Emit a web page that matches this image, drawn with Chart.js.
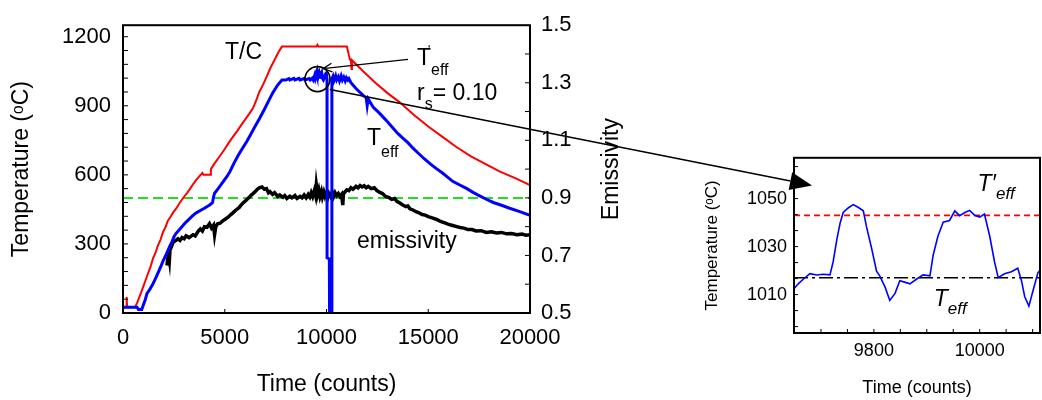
<!DOCTYPE html>
<html>
<head>
<meta charset="utf-8">
<script src="https://cdn.jsdelivr.net/npm/chart.js@4.4.0/dist/chart.umd.min.js"></script>
<style>
  body { margin: 0; background: #fff; }
  #wrap { position: relative; width: 1042px; height: 400px; }
  canvas { position: absolute; }
  #mainChart { left: 0; top: 0; }
  #insetChart { left: 690px; top: 140px; }
  #overlay { left: 0; top: 0; pointer-events: none; }
</style>
</head>
<body>
<div id="wrap">
  <canvas id="mainChart" width="1042" height="400"></canvas>
  <canvas id="insetChart" width="352" height="260"></canvas>
  <canvas id="overlay" width="1042" height="400"></canvas>
</div>
<script>
// ---- main chart data ----
const tcTime = [0, 160, 180, 200, 590, 700, 850, 980, 1100, 1200, 1350, 1475, 1600, 1700, 1850, 1965, 2100, 2200, 2350, 2460, 2600, 2800, 3000, 3145, 3300, 3450, 3600, 3780, 3900, 3950, 4300, 4320, 4500, 4770, 5000, 5200, 5400, 5600, 5800, 6000, 6200, 6390, 6550, 6700, 6900, 7075, 7250, 7450, 7650, 7810, 9500, 9550, 9600, 11000, 11050, 11100, 11150, 11200, 11230, 11250, 11800, 12400, 13000, 13600, 14300, 15000, 15700, 16400, 17100, 17800, 18500, 19300, 20000];
const tcTemp = [25, 25, 70, 25, 25, 45, 80, 110, 140, 165, 200, 237, 262, 290, 320, 351, 375, 400, 420, 436, 452, 480, 505, 521, 540, 560, 578, 597, 608, 600, 600, 625, 650, 683, 712, 740, 765, 789, 815, 840, 865, 890, 925, 960, 995, 1030, 1065, 1100, 1135, 1157, 1157, 1165, 1157, 1157, 1140, 1120, 1102, 1095, 1060, 1098, 1050, 1000, 955, 915, 860, 810, 765, 720, 680, 648, 615, 585, 556];

const teffTime = [0, 690, 760, 920, 1000, 1100, 1180, 1300, 1475, 1600, 1700, 1850, 1965, 2100, 2200, 2300, 2410, 2500, 2600, 2800, 3000, 3100, 3300, 3440, 3600, 3800, 4000, 4275, 4400, 4450, 4500, 4620, 4800, 5110, 5260, 5450, 5650, 5850, 6090, 6300, 6500, 6730, 6950, 7150, 7370, 7600, 7810,
  8000, 8150, 8200, 8400, 8450, 8650, 8700, 8900, 8950, 9150, 9200, 9300, 9350, 9420, 9450, 9500, 9530, 9560, 9600, 9640, 9680, 9720, 9760, 9800, 9850, 9900, 9950, 9990, 10025,
  10028, 10140, 10150, 10255, 10265,
  10320, 10370, 10450, 10500, 10580, 10640, 10720, 10780, 10850, 10920, 10980, 11050, 11100, 11200, 11300, 11450, 11600, 11800, 11950, 12000, 12050, 12300, 12600, 12900, 13200, 13500, 13750, 14000, 14250, 14500, 14800, 15100, 15400, 15700, 15950, 16200, 16550, 16900, 17200, 17500, 17850, 18200, 18600, 19000, 19500, 20000];
const teffTemp = [25, 25, 15, 15, 35, 60, 85, 100, 127, 150, 170, 200, 225, 250, 270, 290, 310, 330, 345, 365, 385, 395, 412, 424, 435, 445, 455, 470, 480, 505, 520, 534, 555, 593, 615, 650, 683, 712, 746, 780, 812, 848, 885, 920, 958, 990, 1012,
  1012, 1018, 1012, 1019, 1012, 1019, 1012, 1018, 1012, 1018, 1012, 1020, 1012, 1032, 1020, 1040, 1030, 1046, 1028, 1040, 1018, 1038, 1045, 1020, 1012, 1022, 1038, 1042, 1018,
  240, 235, 10, 10, 1015,
  1028, 1010, 1030, 1012, 1026, 1008, 1030, 1012, 1025, 1008, 1022, 1012, 1018, 1000, 990, 975, 962, 945, 935, 900, 930, 893, 868, 840, 810, 780, 760, 740, 716, 695, 670, 648, 627, 608, 590, 572, 556, 540, 524, 510, 494, 480, 468, 455, 440, 424];

const emisTime = [2160, 2200, 2250, 2280, 2310, 2380, 2450, 2550, 2700, 2800, 2900, 3000, 3100, 3250, 3440, 3550, 3700, 3800, 3900, 4000, 4130, 4250, 4350, 4450, 4500, 4560, 4650, 4770, 4900, 5000, 5150, 5300, 5400, 5550, 5700, 5800, 5900, 6050, 6200, 6300, 6390, 6500, 6600, 6700, 6830, 6950, 7050, 7150, 7220, 7350, 7450, 7600, 7700, 7860, 7950, 8050, 8200, 8300, 8450, 8550, 8700, 8800, 8900, 9000, 9100, 9180, 9250, 9320, 9400, 9460, 9500, 9560, 9620, 9680, 9750, 9800, 9870, 9930, 10000, 10060, 10120, 10200, 10280, 10350, 10420, 10500, 10580, 10660, 10740, 10800, 10830, 10900, 11000, 11100, 11200, 11300, 11450, 11550, 11650, 11750, 11850, 11950, 12050, 12200, 12350, 12480, 12600, 12750, 12900, 13050, 13200, 13350, 13460, 13600, 13750, 13900, 14000, 14100, 14250, 14400, 14550, 14700, 14850, 15000, 15230, 15400, 15550, 15700, 15850, 16000, 16200, 16400, 16560, 16750, 16950, 17150, 17350, 17600, 17850, 18100, 18350, 18600, 18850, 19100, 19350, 19600, 19800, 20000];
const emisValue = [0.665, 0.69, 0.70, 0.685, 0.72, 0.73, 0.745, 0.75, 0.758, 0.752, 0.762, 0.758, 0.768, 0.762, 0.772, 0.768, 0.785, 0.792, 0.785, 0.80, 0.798, 0.81, 0.795, 0.805, 0.772, 0.80, 0.81, 0.812, 0.82, 0.825, 0.832, 0.842, 0.848, 0.858, 0.866, 0.875, 0.882, 0.892, 0.902, 0.91, 0.915, 0.922, 0.93, 0.935, 0.938, 0.93, 0.932, 0.918, 0.922, 0.912, 0.918, 0.905, 0.91, 0.902, 0.908, 0.898, 0.906, 0.90, 0.908, 0.898, 0.905, 0.90, 0.91, 0.90, 0.912, 0.903, 0.918, 0.905, 0.925, 0.908, 0.945, 0.912, 0.928, 0.905, 0.922, 0.903, 0.92, 0.905, 0.918, 0.90, 0.915, 0.905, 0.92, 0.905, 0.918, 0.908, 0.915, 0.905, 0.912, 0.875, 0.912, 0.92, 0.928, 0.925, 0.935, 0.93, 0.94, 0.935, 0.943, 0.938, 0.942, 0.935, 0.94, 0.932, 0.935, 0.925, 0.92, 0.915, 0.905, 0.902, 0.895, 0.898, 0.888, 0.882, 0.875, 0.87, 0.872, 0.862, 0.858, 0.852, 0.848, 0.842, 0.84, 0.835, 0.83, 0.825, 0.82, 0.816, 0.812, 0.808, 0.804, 0.80, 0.797, 0.795, 0.79, 0.79, 0.785, 0.786, 0.78, 0.782, 0.778, 0.78, 0.775, 0.776, 0.772, 0.774, 0.77, 0.772];

const refTemp = 500;          // green dashed line
const timeTicks = [0, 5000, 10000, 15000, 20000];
const tempTicks = [0, 300, 600, 900, 1200];
const emisTicks = [0.5, 0.7, 0.9, 1.1, 1.3, 1.5];

// ---- inset data ----
const zoomTime = [9649, 9657, 9667, 9679, 9692, 9704, 9717, 9723, 9730, 9736, 9742, 9752, 9761, 9770, 9780, 9786, 9796, 9805, 9811, 9821, 9830, 9840, 9849, 9858, 9868, 9881, 9893, 9906, 9912, 9921, 9931, 9943, 9953, 9962, 9972, 9981, 9991, 10000, 10009, 10019, 10028, 10035, 10047, 10060, 10072, 10079, 10085, 10093, 10101, 10110, 10115];
const zoomTemp = [1012.5, 1014.5, 1016.5, 1018.7, 1018.2, 1018.5, 1018.2, 1023.7, 1033, 1039.6, 1044.2, 1046.2, 1047.5, 1046.4, 1044.9, 1038.3, 1029, 1019.8, 1017.8, 1013.2, 1007.6, 1010.5, 1015.8, 1015.2, 1014.5, 1016.5, 1018.2, 1017.8, 1026.4, 1034.3, 1040.2, 1040.9, 1044.9, 1042.9, 1044.2, 1045.1, 1042.9, 1042.3, 1043.6, 1034.3, 1023.7, 1017.1, 1018.7, 1019.5, 1021, 1015.8, 1009.2, 1005.2, 1011.8, 1019.1, 1020.4];
const teffLevel = 1017;
const teffPrimeLevel = 1043;
const zoomTimeTicks = [9800, 10000];
const zoomTempTicks = [1010, 1030, 1050];

const FONT = "'Liberation Sans', Arial, sans-serif";
Chart.defaults.font.family = FONT;
Chart.defaults.color = '#000';

function pts(xs, ys) { return xs.map((x, i) => ({ x: x, y: ys[i] })); }

function subText(ctx, x, y, main, sub, size, subSize, drop, style) {
  style = style || '';
  ctx.font = style + ' ' + size + 'px ' + FONT;
  ctx.fillText(main, x, y);
  const w = ctx.measureText(main).width;
  ctx.font = style + ' ' + subSize + 'px ' + FONT;
  ctx.fillText(sub, x + w, y + drop);
  return x + w + ctx.measureText(sub).width;
}

const mainDecor = {
  id: 'mainDecor',
  afterDraw(chart) {
    const { ctx, chartArea: a, scales } = chart;
    const xs = scales.x, ys = scales.y, es = scales.y2;
    ctx.save();
    ctx.strokeStyle = '#000';
    ctx.fillStyle = '#000';
    ctx.lineWidth = 1;
    ctx.beginPath();
    for (let v = 60; v < 1250; v += 60) {
      const p = ys.getPixelForValue(v);
      ctx.moveTo(a.left, p); ctx.lineTo(a.left + 5, p);
    }
    for (let v = 0.6; v < 1.45; v += 0.1) {
      const p = es.getPixelForValue(v);
      ctx.moveTo(a.right, p); ctx.lineTo(a.right - 5, p);
    }
    timeTicks.slice(1, -1).forEach(v => {
      const p = xs.getPixelForValue(v);
      ctx.moveTo(p, a.bottom); ctx.lineTo(p, a.bottom - 4);
    });
    ctx.stroke();
    ctx.lineWidth = 2;
    ctx.strokeRect(a.left, a.top, a.right - a.left, a.bottom - a.top);

    // right axis title
    ctx.save();
    ctx.translate(612, (a.top + a.bottom) / 2);
    ctx.rotate(-Math.PI / 2);
    ctx.textAlign = 'center';
    ctx.textBaseline = 'middle';
    ctx.font = '23px ' + FONT;
    ctx.fillText('Emissivity', 0, 0);
    ctx.restore();

    // labels
    ctx.textBaseline = 'alphabetic';
    ctx.textAlign = 'left';
    ctx.font = '23px ' + FONT;
    ctx.fillText('T/C', xs.getPixelForValue(5012), ys.getPixelForValue(1102));

    let lx = xs.getPixelForValue(14447), ly = ys.getPixelForValue(1077);
    subText(ctx, lx, ly, 'T', 'eff', 23, 16, 10);
    ctx.font = '12px ' + FONT;
    ctx.fillText("'", lx + 11, ly - 11);

    lx = xs.getPixelForValue(14447); ly = ys.getPixelForValue(925);
    const after = subText(ctx, lx, ly, 'r', 's', 23, 16, 9);
    ctx.font = '23px ' + FONT;
    ctx.fillText('= 0.10', after, ly);

    subText(ctx, xs.getPixelForValue(11990), ys.getPixelForValue(731), 'T', 'eff', 23, 16, 12);
    ctx.font = '23px ' + FONT;
    ctx.fillText('emissivity', xs.getPixelForValue(11499), ys.getPixelForValue(283));

    // circle + small arrow
    const cx = xs.getPixelForValue(9558), cy = ys.getPixelForValue(1016);
    ctx.lineWidth = 1.6;
    ctx.beginPath();
    ctx.arc(cx, cy, 12.5, 0, Math.PI * 2);
    ctx.stroke();
    const tx = xs.getPixelForValue(14005), ty = ys.getPixelForValue(1102);
    const hx = cx + 5.5, hy = cy - 10.5;
    ctx.lineWidth = 1.3;
    ctx.beginPath();
    ctx.moveTo(tx, ty); ctx.lineTo(hx, hy);
    const ang = Math.atan2(ty - hy, tx - hx);
    ctx.moveTo(hx + 10 * Math.cos(ang + 0.45), hy + 10 * Math.sin(ang + 0.45));
    ctx.lineTo(hx, hy);
    ctx.lineTo(hx + 10 * Math.cos(ang - 0.45), hy + 10 * Math.sin(ang - 0.45));
    ctx.stroke();
    ctx.restore();
  }
};

const mainChart = new Chart(document.getElementById('mainChart'), {
  type: 'line',
  data: {
    datasets: [
      { data: pts(tcTime, tcTemp), borderColor: '#ff0000', borderWidth: 2, yAxisID: 'y', order: 2 },
      { data: pts(teffTime, teffTemp), borderColor: '#0000ff', borderWidth: 3, yAxisID: 'y', order: 1 },
      { data: pts(emisTime, emisValue), borderColor: '#000', borderWidth: 3.5, yAxisID: 'y2', order: 3 },
      { data: pts([0, 20000], [refTemp, refTemp]), borderColor: '#22dd22', borderWidth: 2, borderDash: [10, 5], yAxisID: 'y', order: 4 }
    ]
  },
  options: {
    responsive: false,
    animation: false,
    events: [],
    layout: { padding: { top: 17, left: 0, right: 0, bottom: 0 } },
    elements: { point: { radius: 0 }, line: { tension: 0 } },
    plugins: { legend: { display: false }, tooltip: { enabled: false } },
    scales: {
      x: {
        type: 'linear', min: 0, max: 20000,
        grid: { display: false, drawTicks: false }, border: { display: false },
        afterBuildTicks: s => { s.ticks = timeTicks.map(v => ({ value: v })); },
        afterFit: s => { s.height = 87; },
        ticks: { font: { size: 22 }, padding: 12, maxRotation: 0, autoSkip: false, callback: v => String(v) },
        title: { display: true, text: 'Time (counts)', font: { size: 23 }, padding: { top: 0, bottom: 2 } }
      },
      y: {
        type: 'linear', position: 'left', min: 0, max: 1250,
        grid: { display: false, drawTicks: false }, border: { display: false },
        afterBuildTicks: s => { s.ticks = tempTicks.map(v => ({ value: v })); },
        afterFit: s => { s.width = 123; },
        ticks: { font: { size: 22 }, padding: 12, autoSkip: false, callback: v => String(v) },
        title: { display: true, text: 'Temperature (ᵒC)', font: { size: 23 }, padding: { top: 8, bottom: 0 } }
      },
      y2: {
        type: 'linear', position: 'right', min: 0.5, max: 1.5,
        grid: { display: false, drawTicks: false }, border: { display: false },
        afterBuildTicks: s => { s.ticks = emisTicks.map(v => ({ value: v })); },
        afterFit: s => { s.width = 512; },
        ticks: { font: { size: 22 }, padding: 11, autoSkip: false, callback: v => v.toFixed(1) }
      }
    }
  },
  plugins: [mainDecor]
});

const insetDecor = {
  id: 'insetDecor',
  afterDraw(chart) {
    const { ctx, chartArea: a, scales } = chart;
    const xs = scales.x, ys = scales.y;
    ctx.save();
    ctx.strokeStyle = '#000';
    ctx.fillStyle = '#000';
    ctx.lineWidth = 1;
    ctx.beginPath();
    for (let v = 1050 - 20 * 8 / 3; v < 1066; v += 20 / 3) {
      const p = ys.getPixelForValue(v);
      ctx.moveTo(a.left, p); ctx.lineTo(a.left + 4, p);
    }
    for (let v = 9650; v < 10114; v += 50) {
      const p = xs.getPixelForValue(v);
      ctx.moveTo(p, a.bottom); ctx.lineTo(p, a.bottom - 4);
    }
    ctx.stroke();
    ctx.lineWidth = 2;
    ctx.strokeRect(a.left, a.top, a.right - a.left, a.bottom - a.top);
    ctx.textAlign = 'left';
    ctx.textBaseline = 'alphabetic';
    subText(ctx, xs.getPixelForValue(9996), ys.getPixelForValue(1053.2), 'T′', 'eff', 23, 17, 8, 'italic');
    subText(ctx, xs.getPixelForValue(9913), ys.getPixelForValue(1005.2), 'T', 'eff', 23, 17, 8, 'italic');
    ctx.restore();
  }
};

const insetChart = new Chart(document.getElementById('insetChart'), {
  type: 'line',
  data: {
    datasets: [
      { data: pts(zoomTime, zoomTemp), borderColor: '#0000ff', borderWidth: 1.6, order: 1 },
      { data: pts([9649, 10114], [teffPrimeLevel, teffPrimeLevel]), borderColor: '#ff0000', borderWidth: 1.6, borderDash: [6, 4], order: 2 },
      { data: pts([9649, 10114], [teffLevel, teffLevel]), borderColor: '#000', borderWidth: 1.6, borderDash: [14, 4, 3, 4], order: 3 }
    ]
  },
  options: {
    responsive: false,
    animation: false,
    events: [],
    layout: { padding: { top: 10, left: 0, right: 2, bottom: 0 } },
    elements: { point: { radius: 0 }, line: { tension: 0 } },
    plugins: { legend: { display: false }, tooltip: { enabled: false } },
    scales: {
      x: {
        type: 'linear', min: 9649, max: 10114,
        grid: { display: false, drawTicks: false }, border: { display: false },
        afterBuildTicks: s => { s.ticks = zoomTimeTicks.map(v => ({ value: v })); },
        afterFit: s => { s.height = 67; },
        ticks: { font: { size: 18 }, padding: 7, maxRotation: 0, autoSkip: false, callback: v => String(v) },
        title: { display: true, text: 'Time (counts)', font: { size: 18 }, padding: { top: 0, bottom: 1 } }
      },
      y: {
        type: 'linear', min: 994, max: 1067,
        grid: { display: false, drawTicks: false }, border: { display: false },
        afterBuildTicks: s => { s.ticks = zoomTempTicks.map(v => ({ value: v })); },
        afterFit: s => { s.width = 104; },
        ticks: { font: { size: 18 }, padding: 7, autoSkip: false, callback: v => String(v) },
        title: { display: true, text: 'Temperature (ᵒC)', font: { size: 17 }, padding: { top: 12, bottom: 0 } }
      }
    }
  },
  plugins: [insetDecor]
});

// connecting line from the circled region to the inset
(function () {
  const ctx = document.getElementById('overlay').getContext('2d');
  const mx = mainChart.scales.x, my = mainChart.scales.y;
  const cx = mx.getPixelForValue(9558), cy = my.getPixelForValue(1016);
  const sx = cx + 12.5, sy = cy + 10.5;
  const ex = 690 + insetChart.scales.x.getPixelForValue(9683);
  const ey = 140 + insetChart.scales.y.getPixelForValue(1055.5);
  const ang = Math.atan2(ey - sy, ex - sx);
  const len = 22, half = 9;
  const bx = ex - len * Math.cos(ang), by = ey - len * Math.sin(ang);
  ctx.strokeStyle = '#000';
  ctx.fillStyle = '#000';
  ctx.lineWidth = 1.5;
  ctx.beginPath();
  ctx.moveTo(sx, sy); ctx.lineTo(bx, by);
  ctx.stroke();
  ctx.beginPath();
  ctx.moveTo(ex, ey);
  ctx.lineTo(bx - half * Math.sin(ang), by + half * Math.cos(ang));
  ctx.lineTo(bx + half * Math.sin(ang), by - half * Math.cos(ang));
  ctx.closePath();
  ctx.fill();
})();
</script>
</body>
</html>
